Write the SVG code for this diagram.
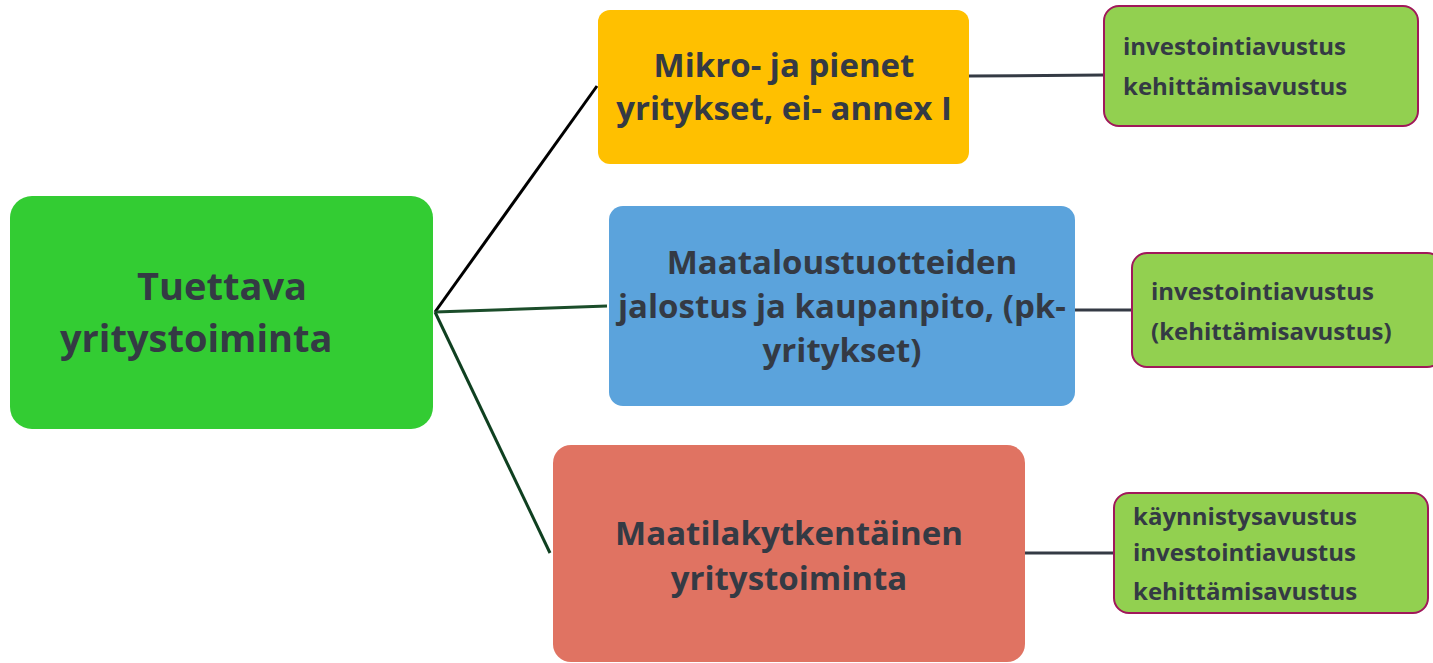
<svg xmlns="http://www.w3.org/2000/svg" width="1433" height="663" viewBox="0 0 1433 663">
<style>
.t{font-family:"Open Sans","Noto Sans","Liberation Sans",sans-serif;font-weight:700;fill:#343a44}
.big{font-size:38px}
.mid{font-size:33px;text-anchor:middle}
.sm{font-size:24px}
.leaf{fill:#92D050;stroke:#A0185A;stroke-width:2}
.c{fill:none;stroke-width:3}
</style>
<rect width="1433" height="663" fill="#ffffff"/>
<g id="connectors">
<line class="c" x1="435" y1="312" x2="597" y2="86" stroke="#000000"/>
<line class="c" x1="435" y1="312" x2="607" y2="306" stroke="#1b4d2a"/>
<line class="c" x1="435" y1="312" x2="550" y2="553" stroke="#0f4020"/>
<line class="c" x1="969" y1="76" x2="1104" y2="75" stroke="#343a44"/>
<line class="c" x1="1075" y1="310" x2="1132" y2="310" stroke="#343a44"/>
<line class="c" x1="1024" y1="553" x2="1114" y2="553" stroke="#343a44"/>
</g>
<g id="root">
<rect x="10" y="196" width="423" height="233" rx="22" fill="#33CC33"/>
<text class="t big" x="222" y="300" text-anchor="middle">Tuettava</text>
<text class="t big" x="60" y="352">yritystoiminta</text>
</g>
<g id="n1">
<rect x="598" y="10" width="371" height="154" rx="12" fill="#FFC000"/>
<text class="t mid" x="784" y="77">Mikro- ja pienet</text>
<text class="t mid" x="784" y="120">yritykset, ei- annex I</text>
</g>
<g id="n2">
<rect x="609" y="206" width="466" height="200" rx="14" fill="#5BA3DC"/>
<text class="t mid" x="842" y="274">Maataloustuotteiden</text>
<text class="t mid" x="842" y="318">jalostus ja kaupanpito, (pk-</text>
<text class="t mid" x="842" y="362">yritykset)</text>
</g>
<g id="n3">
<rect x="553" y="445" width="472" height="217" rx="18" fill="#E07362"/>
<text class="t mid" x="789" y="545">Maatilakytkentäinen</text>
<text class="t mid" x="789" y="590">yritystoiminta</text>
</g>
<g id="l1">
<rect class="leaf" x="1104" y="6" width="314" height="120" rx="15"/>
<text class="t sm" x="1123" y="55">investointiavustus</text>
<text class="t sm" x="1123" y="95">kehittämisavustus</text>
</g>
<g id="l2">
<rect class="leaf" x="1132" y="253" width="310" height="114" rx="15"/>
<text class="t sm" x="1151" y="300">investointiavustus</text>
<text class="t sm" x="1151" y="340">(kehittämisavustus)</text>
</g>
<g id="l3">
<rect class="leaf" x="1114" y="493" width="314" height="120" rx="15"/>
<text class="t sm" x="1133" y="525">käynnistysavustus</text>
<text class="t sm" x="1133" y="561">investointiavustus</text>
<text class="t sm" x="1133" y="600">kehittämisavustus</text>
</g>
</svg>
